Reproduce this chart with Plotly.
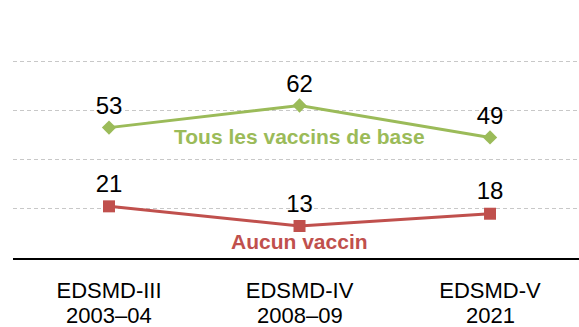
import plotly.graph_objects as go

surveys = ["EDSMD-III", "EDSMD-IV", "EDSMD-V"]
periods = ["2003–04", "2008–09", "2021"]
all_basic = [53, 62, 49]
no_vaccine = [21, 13, 18]

green = "#9BBB59"
red = "#C0504D"
font = "Liberation Sans, Arial"
x = list(range(len(surveys)))

fig = go.Figure()
fig.add_trace(go.Scatter(
    x=x, y=all_basic, mode="lines+markers+text",
    line=dict(color=green, width=3),
    marker=dict(symbol="diamond", size=11, color=green),
    text=[str(v) for v in all_basic], textposition="top center",
    textfont=dict(family=font, size=24, color="#000000"),
    cliponaxis=False, showlegend=False,
))
fig.add_trace(go.Scatter(
    x=x, y=no_vaccine, mode="lines+markers+text",
    line=dict(color=red, width=3),
    marker=dict(symbol="square", size=12, color=red),
    text=[str(v) for v in no_vaccine], textposition="top center",
    textfont=dict(family=font, size=24, color="#000000"),
    cliponaxis=False, showlegend=False,
))

# series names written next to the lines
fig.add_annotation(x=1, y=49.2, text="<b>Tous les vaccins de base</b>", showarrow=False,
                   font=dict(family=font, size=21, color=green))
fig.add_annotation(x=1, y=6.9, text="<b>Aucun vaccin</b>", showarrow=False,
                   font=dict(family=font, size=21, color=red))

# second row of the category labels
for xi, p in zip(x, periods):
    fig.add_annotation(x=xi, y=0, yref="paper", yanchor="top", yshift=-44,
                       text=p, showarrow=False, borderpad=0,
                       font=dict(family=font, size=22, color="#000000"))

fig.update_layout(
    width=579, height=327,
    margin=dict(l=13, r=0, t=12, b=69),
    plot_bgcolor="white", paper_bgcolor="white",
)
fig.update_xaxes(
    range=[-0.504, 2.467], tickvals=x, ticktext=surveys,
    showgrid=False, zeroline=False,
    showline=True, linecolor="#000000", linewidth=1.5,
    ticks="", ticklabelstandoff=12,
    tickfont=dict(family=font, size=22, color="#000000"),
)
fig.update_yaxes(
    range=[0, 100], tickvals=[20, 40, 60, 80, 100], showticklabels=False,
    showgrid=True, gridcolor="#C8C8C8", griddash="4px,3px", gridwidth=1,
    zeroline=False, showline=False,
)

fig.write_html("out.html")
